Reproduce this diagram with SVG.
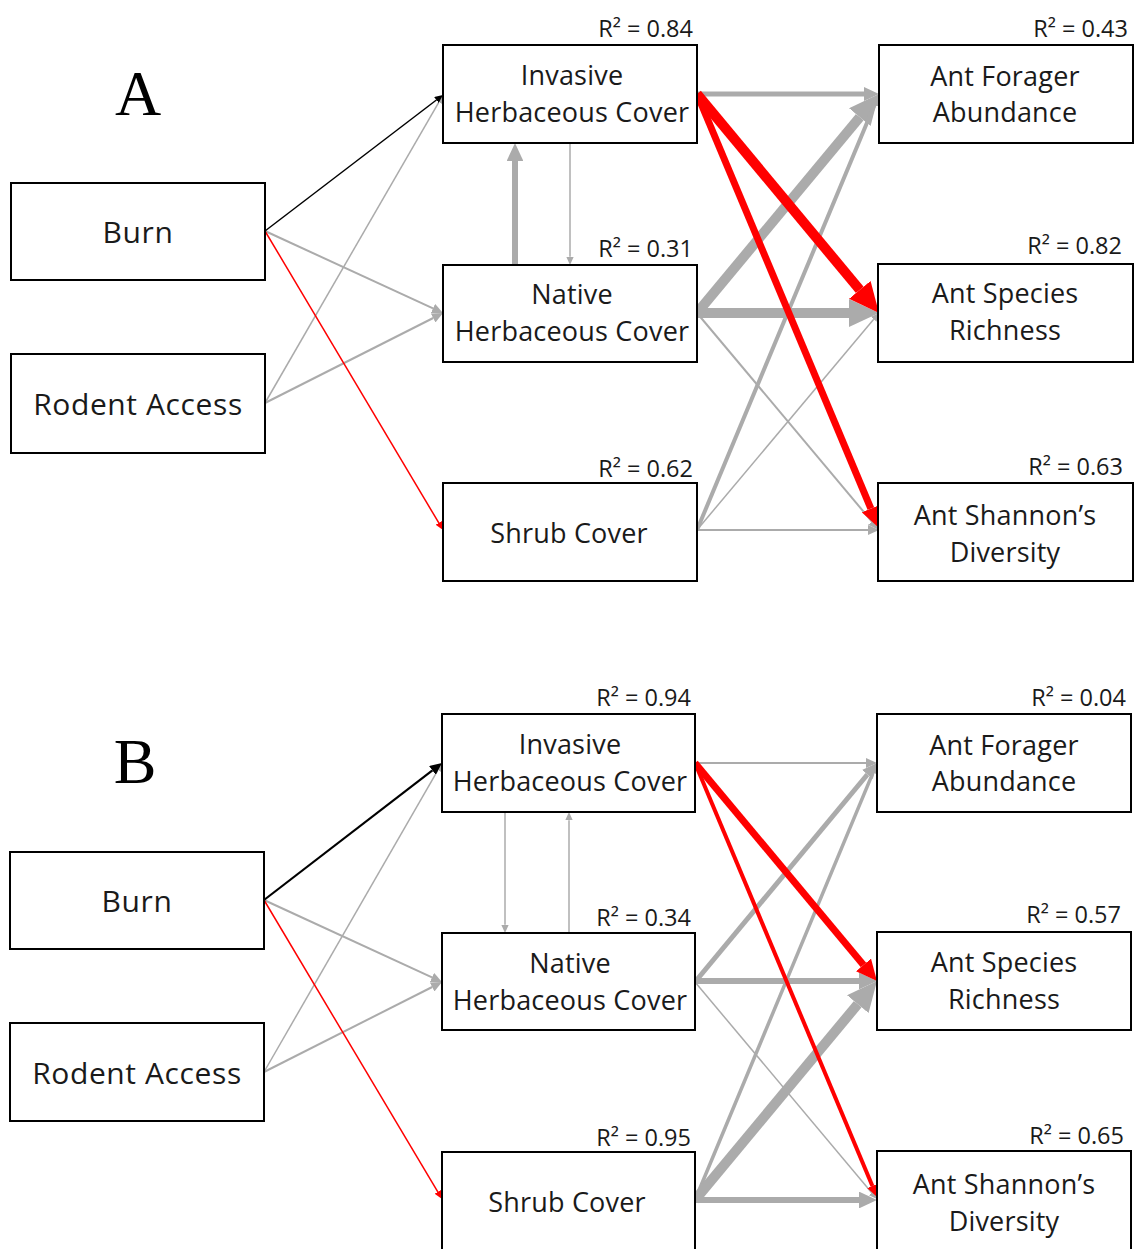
<svg xmlns="http://www.w3.org/2000/svg" width="1135" height="1249" viewBox="0 0 1135 1249">
<style>
  .box { fill: #ffffff; stroke: #000000; stroke-width: 2; }
  .lbl { font-family: "Open Sans", "Noto Sans", sans-serif; font-size: 27px; letter-spacing: 0.2px; fill: #1a1a1a; text-anchor: middle; }
  .lbl.big { font-size: 30px; letter-spacing: 0.6px; }
  .r2 { font-family: "Open Sans", "Noto Sans", sans-serif; font-size: 23.5px; fill: #1a1a1a; text-anchor: end; }
  .panel { font-family: "Liberation Serif", serif; font-size: 64px; fill: #000000; text-anchor: middle; }
  .g { stroke: #ababab; fill: none; }
  .r { stroke: #ff0000; fill: none; }
  .k { stroke: #000000; fill: none; }
  .g.thin { marker-end: url(#hg-thin); }
  .g.thick { marker-end: url(#hg-thick); }
  .r.thin { marker-end: url(#hr-thin); }
  .r.thick { marker-end: url(#hr-thick); }
  .k.thin { marker-end: url(#hk-thin); }
</style>
<defs>
  <!-- arrowheads sized in stroke-width units; the line stops at the head's base -->
  <marker id="hg-thin" markerUnits="strokeWidth" viewBox="0 -2.5 5.5 5" markerWidth="5.5" markerHeight="5" refX="0" refY="0" orient="auto"><path d="M0,-2.5 L5.5,0 L0,2.5 Z" fill="#ababab"/></marker>
  <marker id="hg-thick" markerUnits="strokeWidth" viewBox="0 -1.4 3 2.8" markerWidth="3" markerHeight="2.8" refX="0" refY="0" orient="auto"><path d="M0,-1.4 L3,0 L0,1.4 Z" fill="#ababab"/></marker>
  <marker id="hr-thin" markerUnits="strokeWidth" viewBox="0 -2.5 5.5 5" markerWidth="5.5" markerHeight="5" refX="0" refY="0" orient="auto"><path d="M0,-2.5 L5.5,0 L0,2.5 Z" fill="#ff0000"/></marker>
  <marker id="hr-thick" markerUnits="strokeWidth" viewBox="0 -1.4 3 2.8" markerWidth="3" markerHeight="2.8" refX="0" refY="0" orient="auto"><path d="M0,-1.4 L3,0 L0,1.4 Z" fill="#ff0000"/></marker>
  <marker id="hk-thin" markerUnits="strokeWidth" viewBox="0 -2.5 5.5 5" markerWidth="5.5" markerHeight="5" refX="0" refY="0" orient="auto"><path d="M0,-2.5 L5.5,0 L0,2.5 Z" fill="#000000"/></marker>
</defs>
<rect width="1135" height="1249" fill="#ffffff"/>

<text class="panel" x="138" y="115">A</text>
<text class="panel" x="135" y="783">B</text>

<!-- connectors -->
<g id="connectors">
  <!-- panel A: left column -->
  <line class="g thin" stroke-width="2" x1="265" y1="231" x2="433.0" y2="308.4"/>
  <line class="g thin" stroke-width="1.5" x1="265" y1="403" x2="438.9" y2="102.1"/>
  <line class="g thin" stroke-width="2" x1="265" y1="403" x2="433.2" y2="318.0"/>
  <line class="k thin" stroke-width="1.5" x1="265" y1="231" x2="436.4" y2="100.0"/>
  <line class="r thin" stroke-width="1.5" x1="265" y1="231" x2="438.8" y2="522.9"/>
  <!-- panel A: between invasive and native -->
  <line class="g thick" stroke-width="6" x1="515" y1="265" x2="515" y2="161"/>
  <line class="g thin" stroke-width="1.5" x1="570" y1="143" x2="570" y2="256.75"/>
  <!-- panel A: right column -->
  <line class="g thick" stroke-width="5" x1="697" y1="94" x2="864" y2="94"/>
  <line class="g thick" stroke-width="10" x1="697" y1="313" x2="859.8" y2="117.1"/>
  <line class="g thick" stroke-width="10" x1="697" y1="313" x2="849" y2="313"/>
  <line class="g thin" stroke-width="2" x1="697" y1="313" x2="871.9" y2="521.6"/>
  <line class="g thick" stroke-width="4" x1="697" y1="530" x2="874.4" y2="105.1"/>
  <line class="g thin" stroke-width="1.5" x1="697" y1="530" x2="873.7" y2="319.3"/>
  <line class="g thin" stroke-width="2" x1="697" y1="530" x2="868" y2="530"/>
  <line class="r thick" stroke-width="10" x1="697" y1="94" x2="859.8" y2="289.9"/>
  <line class="r thick" stroke-width="7" x1="697" y1="94" x2="870.9" y2="508.6"/>

  <!-- panel B: left column -->
  <line class="g thin" stroke-width="2" x1="264" y1="900" x2="432.0" y2="977.4"/>
  <line class="g thin" stroke-width="1.5" x1="264" y1="1072" x2="437.9" y2="770.1"/>
  <line class="g thin" stroke-width="2" x1="264" y1="1072" x2="432.2" y2="987.0"/>
  <line class="k thin" stroke-width="2.2" x1="264" y1="900" x2="432.4" y2="770.4"/>
  <line class="r thin" stroke-width="1.5" x1="264" y1="900" x2="437.8" y2="1191.9"/>
  <!-- panel B: between invasive and native -->
  <line class="g thin" stroke-width="1.5" x1="505" y1="812" x2="505" y2="924.75"/>
  <line class="g thin" stroke-width="1.5" x1="569" y1="933" x2="569" y2="820.25"/>
  <!-- panel B: right column -->
  <line class="g thin" stroke-width="2" x1="695" y1="763" x2="866" y2="763"/>
  <line class="g thick" stroke-width="5" x1="695" y1="982" x2="867.4" y2="774.5"/>
  <line class="g thick" stroke-width="6" x1="695" y1="981" x2="859" y2="981"/>
  <line class="g thin" stroke-width="1.5" x1="695" y1="982" x2="871.7" y2="1192.7"/>
  <line class="g thick" stroke-width="3.5" x1="695" y1="1200" x2="873.0" y2="772.7"/>
  <line class="g thick" stroke-width="10" x1="695" y1="1200" x2="857.8" y2="1004.1"/>
  <line class="g thick" stroke-width="6" x1="695" y1="1200" x2="859" y2="1200"/>
  <line class="r thick" stroke-width="7" x1="695" y1="763" x2="863.5" y2="964.9"/>
  <line class="r thick" stroke-width="4" x1="695" y1="763" x2="872.4" y2="1185.9"/>
</g>

<!-- panel A nodes -->
<g id="a-burn"><rect class="box" x="11" y="183" width="254" height="97"/><text class="lbl big" x="138" y="243">Burn</text></g>
<g id="a-rodent"><rect class="box" x="11" y="354" width="254" height="99"/><text class="lbl big" x="138" y="415">Rodent Access</text></g>
<g id="a-invasive"><rect class="box" x="443" y="45" width="254" height="98"/><text class="lbl" x="572" y="85">Invasive</text><text class="lbl" x="572" y="122">Herbaceous Cover</text><text class="r2" x="693" y="37">R² = 0.84</text></g>
<g id="a-native"><rect class="box" x="443" y="265" width="254" height="97"/><text class="lbl" x="572" y="304">Native</text><text class="lbl" x="572" y="341">Herbaceous Cover</text><text class="r2" x="693" y="257">R² = 0.31</text></g>
<g id="a-shrub"><rect class="box" x="443" y="483" width="254" height="98"/><text class="lbl" x="569" y="543">Shrub Cover</text><text class="r2" x="693" y="477">R² = 0.62</text></g>
<g id="a-forager"><rect class="box" x="879" y="45" width="254" height="98"/><text class="lbl" x="1005" y="86">Ant Forager</text><text class="lbl" x="1005" y="122">Abundance</text><text class="r2" x="1128" y="37">R² = 0.43</text></g>
<g id="a-richness"><rect class="box" x="878" y="264" width="255" height="98"/><text class="lbl" x="1005" y="303">Ant Species</text><text class="lbl" x="1005" y="340">Richness</text><text class="r2" x="1122" y="254">R² = 0.82</text></g>
<g id="a-shannon"><rect class="box" x="878" y="483" width="255" height="98"/><text class="lbl" x="1005" y="525">Ant Shannon’s</text><text class="lbl" x="1005" y="562">Diversity</text><text class="r2" x="1123" y="475">R² = 0.63</text></g>

<!-- panel B nodes -->
<g id="b-burn"><rect class="box" x="10" y="852" width="254" height="97"/><text class="lbl big" x="137" y="912">Burn</text></g>
<g id="b-rodent"><rect class="box" x="10" y="1023" width="254" height="98"/><text class="lbl big" x="137" y="1084">Rodent Access</text></g>
<g id="b-invasive"><rect class="box" x="442" y="714" width="253" height="98"/><text class="lbl" x="570" y="754">Invasive</text><text class="lbl" x="570" y="791">Herbaceous Cover</text><text class="r2" x="691" y="706">R² = 0.94</text></g>
<g id="b-native"><rect class="box" x="442" y="933" width="253" height="97"/><text class="lbl" x="570" y="973">Native</text><text class="lbl" x="570" y="1010">Herbaceous Cover</text><text class="r2" x="691" y="926">R² = 0.34</text></g>
<g id="b-shrub"><rect class="box" x="442" y="1152" width="253" height="98"/><text class="lbl" x="567" y="1212">Shrub Cover</text><text class="r2" x="691" y="1146">R² = 0.95</text></g>
<g id="b-forager"><rect class="box" x="877" y="714" width="254" height="98"/><text class="lbl" x="1004" y="755">Ant Forager</text><text class="lbl" x="1004" y="791">Abundance</text><text class="r2" x="1126" y="706">R² = 0.04</text></g>
<g id="b-richness"><rect class="box" x="877" y="932" width="254" height="98"/><text class="lbl" x="1004" y="972">Ant Species</text><text class="lbl" x="1004" y="1009">Richness</text><text class="r2" x="1121" y="923">R² = 0.57</text></g>
<g id="b-shannon"><rect class="box" x="877" y="1151" width="254" height="99"/><text class="lbl" x="1004" y="1194">Ant Shannon’s</text><text class="lbl" x="1004" y="1231">Diversity</text><text class="r2" x="1124" y="1144">R² = 0.65</text></g>
</svg>
